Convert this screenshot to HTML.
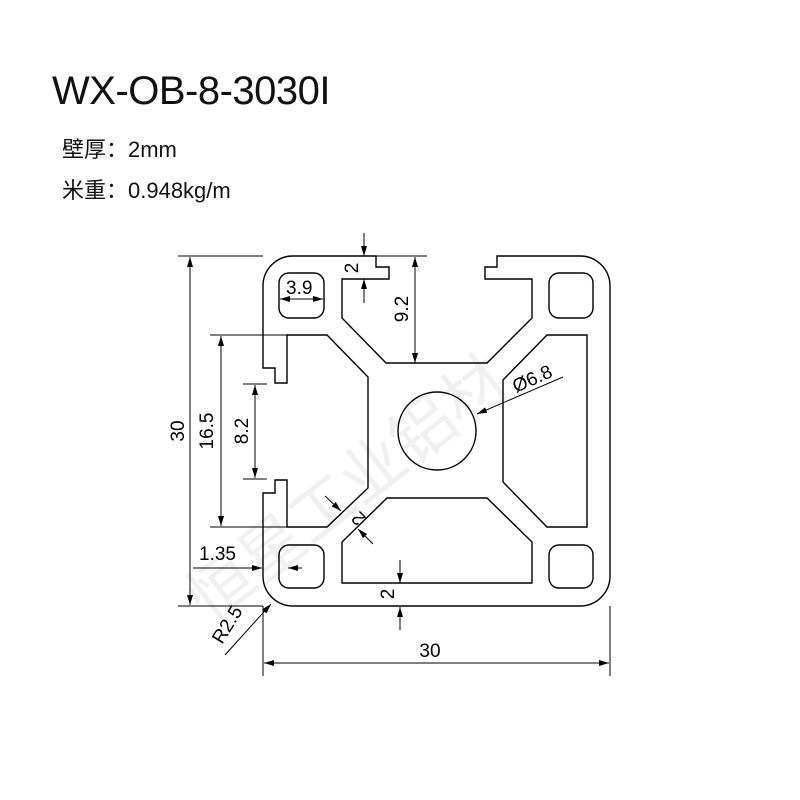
<!DOCTYPE html>
<html><head><meta charset="utf-8"><style>
html,body{margin:0;padding:0;background:#fff;}
body{width:800px;height:800px;overflow:hidden;position:relative;font-family:"Liberation Sans","Noto Sans CJK SC",sans-serif;}
.t{position:absolute;left:52px;top:69px;font-size:40px;color:#111;letter-spacing:-0.5px;}
.l{position:absolute;left:62px;font-size:22px;color:#111;}
</style></head><body>
<div class="t">WX-OB-8-3030I</div>
<div class="l" style="top:132px">壁厚：2mm</div>
<div class="l" style="top:173px">米重：0.948kg/m</div>
<svg width="800" height="800" style="position:absolute;left:0;top:0" xmlns="http://www.w3.org/2000/svg">
<defs><marker id="a" viewBox="0 0 10 6" refX="10" refY="3" markerWidth="10" markerHeight="6" orient="auto" markerUnits="userSpaceOnUse"><path d="M0,0 L10,3 L0,6 Z" fill="#000"/></marker></defs>
<g font-family="Liberation Sans, Noto Sans CJK SC, sans-serif" fill="#f0f0f0" font-size="64">
<text transform="translate(210,625) rotate(-38)">恒星工业铝材</text>
</g>
<g fill="none" stroke="#000" stroke-width="1.4">
<path d="M263,286 A30 30 0 0 1 293,256 L376,256 L376,267 L389,267 L389,279 L342,279 L342,318 L386,363 L487,363 L532,318 L532,279 L485,279 L485,267 L497,267 L497,256 L580,256 A30 30 0 0 1 610,286 L610,576 A30 30 0 0 1 580,606 L293,606 A30 30 0 0 1 263,576 L263,493 L275,493 L275,480 L287,480 L287,527 L327,527 L368,488 L368,377 L327,335 L287,335 L287,383 L275,383 L275,368 L263,368 Z"/>
<rect x="279" y="273" width="45" height="45" rx="10"/>
<rect x="549" y="273" width="44" height="45" rx="10"/>
<rect x="279" y="545" width="45" height="43" rx="10"/>
<rect x="549" y="545" width="44" height="43" rx="10"/>
<circle cx="437" cy="431" r="39"/>
<path d="M547,335 L587,335 L587,527 L547,527 L503,482 L503,380 Z"/>
<path d="M387,498 L487,498 L532,542 L532,583 L342,583 L342,542 Z"/>
</g>
<g stroke="#000" stroke-width="1" fill="none">
<line x1="330" y1="256" x2="427" y2="256"/>
<line x1="364" y1="233" x2="364" y2="256" marker-end="url(#a)"/>
<line x1="364" y1="303" x2="364" y2="279" marker-end="url(#a)"/>
<line x1="415" y1="310" x2="415" y2="257" marker-end="url(#a)"/>
<line x1="415" y1="310" x2="415" y2="363" marker-end="url(#a)"/>
<line x1="301" y1="299" x2="280" y2="299" marker-end="url(#a)"/>
<line x1="301" y1="299" x2="323" y2="299" marker-end="url(#a)"/>
<line x1="178" y1="256" x2="263" y2="256"/>
<line x1="178" y1="606" x2="263" y2="606"/>
<line x1="190" y1="430" x2="190" y2="257" marker-end="url(#a)"/>
<line x1="190" y1="430" x2="190" y2="605" marker-end="url(#a)"/>
<line x1="210" y1="335" x2="287" y2="335"/>
<line x1="210" y1="527" x2="287" y2="527"/>
<line x1="221" y1="430" x2="221" y2="336" marker-end="url(#a)"/>
<line x1="221" y1="430" x2="221" y2="526" marker-end="url(#a)"/>
<line x1="243" y1="384" x2="267" y2="384"/>
<line x1="243" y1="479" x2="267" y2="479"/>
<line x1="255" y1="430" x2="255" y2="385" marker-end="url(#a)"/>
<line x1="255" y1="430" x2="255" y2="478" marker-end="url(#a)"/>
<line x1="193" y1="568" x2="262" y2="568" marker-end="url(#a)"/>
<line x1="302" y1="568" x2="288" y2="568" marker-end="url(#a)"/>
<line x1="225" y1="655" x2="271" y2="604" marker-end="url(#a)"/>
<line x1="263" y1="606" x2="263" y2="676"/>
<line x1="610" y1="606" x2="610" y2="676"/>
<line x1="436" y1="663" x2="264" y2="663" marker-end="url(#a)"/>
<line x1="436" y1="663" x2="609" y2="663" marker-end="url(#a)"/>
<line x1="400" y1="560" x2="400" y2="583" marker-end="url(#a)"/>
<line x1="400" y1="630" x2="400" y2="607" marker-end="url(#a)"/>
<line x1="325" y1="496" x2="341" y2="511" marker-end="url(#a)"/>
<line x1="373" y1="544" x2="358" y2="529" marker-end="url(#a)"/>
<line x1="563" y1="377" x2="477" y2="414" marker-end="url(#a)"/>
</g>
<g font-family="Liberation Sans, sans-serif" font-size="19" fill="#000">
<text x="286" y="294">3.9</text>
<text transform="translate(358,268) rotate(-90)" text-anchor="middle">2</text>
<text transform="translate(408,309) rotate(-90)" text-anchor="middle">9.2</text>
<text transform="translate(184,431) rotate(-90)" text-anchor="middle">30</text>
<text transform="translate(213,431) rotate(-90)" text-anchor="middle">16.5</text>
<text transform="translate(248,431) rotate(-90)" text-anchor="middle">8.2</text>
<text x="199" y="560">1.35</text>
<text transform="translate(222,645) rotate(-58)">R2.5</text>
<text x="430" y="657" text-anchor="middle">30</text>
<text transform="translate(394,594) rotate(-90)" text-anchor="middle">2</text>
<text transform="translate(363,514) rotate(-135)" text-anchor="middle">2</text>
<text transform="translate(516,393) rotate(-24)">Ø6.8</text>
</g>
</svg>
</body></html>
